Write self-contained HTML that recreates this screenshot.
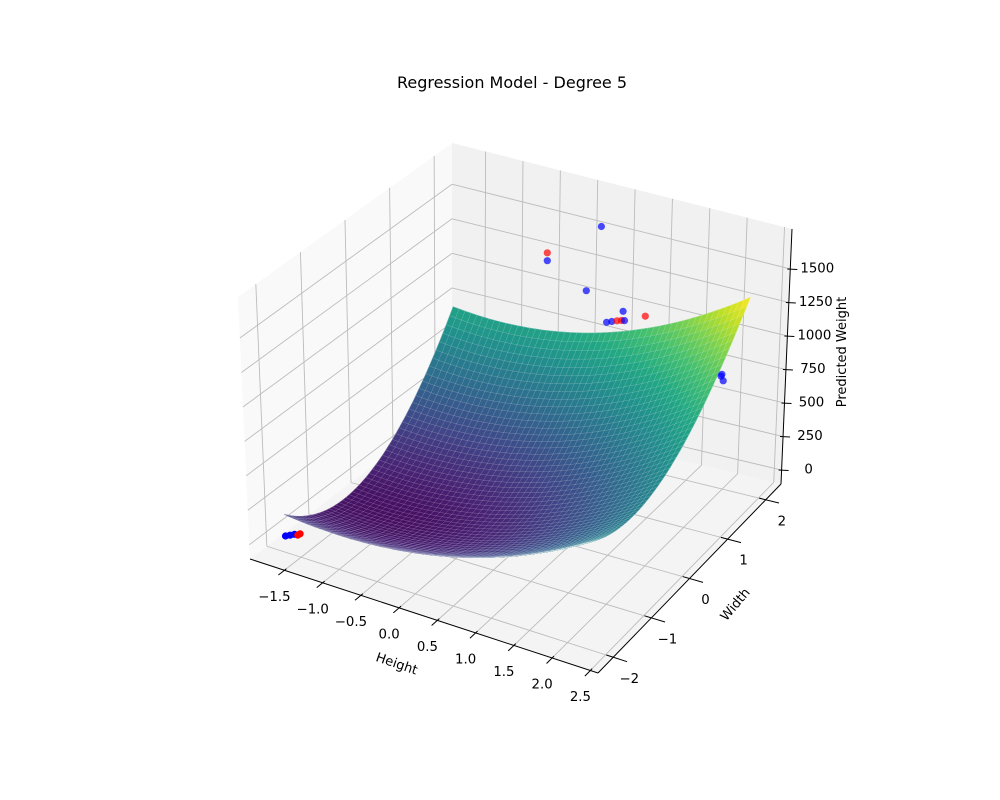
<!DOCTYPE html>
<html><head><meta charset="utf-8"><style>
html,body{margin:0;padding:0;background:#fff;}
svg{display:block;font-family:"DejaVu Sans","Liberation Sans",sans-serif;}
</style></head><body>
<svg id="chart" width="1000" height="800" viewBox="0 0 1000 800">
<text x="512" y="88" text-anchor="middle" font-size="16" fill="#000">Regression Model - Degree 5</text>
<g id="panes"></g>
<g id="grid"></g>
<g id="surface"></g>
<g id="points"></g>
<g id="axes"></g>
<text x="397" y="668" text-anchor="middle" font-size="13" transform="rotate(19 397 663)">Height</text>
<text x="736" y="612" text-anchor="middle" font-size="13" transform="rotate(-50 732 607)">Width</text>
<text x="846" y="352" text-anchor="middle" font-size="13" transform="rotate(-90 846 352)">Predicted Weight</text>
</svg>
<script>
// ---- data ----
const heightTicks = [-1.5, -1.0, -0.5, 0.0, 0.5, 1.0, 1.5, 2.0, 2.5];
const heightTickLabels = ["\u22121.5","\u22121.0","\u22120.5","0.0","0.5","1.0","1.5","2.0","2.5"];
const widthTicks = [-2, -1, 0, 1, 2];
const widthTickLabels = ["\u22122","\u22121","0","1","2"];
const zTicks = [0, 250, 500, 750, 1000, 1250, 1500];
const zTickLabels = ["0","250","500","750","1000","1250","1500"];
const heightRange = [-1.95, 2.6];
const widthRange = [-2.4, 2.4];
const zRange = [-104, 1798];
const surfHeightRange = [-1.7, 2.3];
const surfWidthRange = [-2.0, 2.0];
// surface model coefficients: a, b*s, c*s^2, d*t, e*t^2, f*s*t, g*s^2*t, k*s*t^2
const surfaceCoefs = [170, -273, 728, -1250, 1820, 241, 184, -270];
const pointHeight = [-1.8,-1.75,-1.7,-1.67,-1.65, -0.43,-0.43, 0.29, 0.10, 0.60, 0.90, 0.45, 0.52, 0.58, 0.62, 0.38, 1.95, 1.97, 1.94];
const pointWidth  = [-1.82,-1.8,-1.78,-1.76,-1.74, 2.0, 2.0, 2.0, 2.0, 2.0, 2.0, 2.0, 2.0, 2.0, 2.0, 2.0, 2.0, 2.0, 2.0];
const pointWeight = [-45,-35,-25,-30,-22, 1302, 1245, 1593, 1098, 1015, 1020, 920, 935, 945, 950, 905, 735, 690, 720];
const pointClass  = ["b","b","b","r","r", "r","b","b","b","b","r","b","r","r","b","b","b","b","b"];

// ---- projection (trilinear over box corners) ----
const F00=[250,559],F10=[598,673],F01=[452,406],F11=[781,484];
const T00=[238,297],T10=[585,390],T01=[452,143],T11=[792,229];
function bil(a,b,c,d,u,v){return [ (a[0]*(1-u)+b[0]*u)*(1-v)+(c[0]*(1-u)+d[0]*u)*v, (a[1]*(1-u)+b[1]*u)*(1-v)+(c[1]*(1-u)+d[1]*u)*v ];}
function P(u,v,n){const f=bil(F00,F10,F01,F11,u,v),t=bil(T00,T10,T01,T11,u,v);return [f[0]+(t[0]-f[0])*n,f[1]+(t[1]-f[1])*n];}
const xu=h=>(h-heightRange[0])/(heightRange[1]-heightRange[0]);
const yv=w=>(w-widthRange[0])/(widthRange[1]-widthRange[0]);
const zn=z=>(z-zRange[0])/(zRange[1]-zRange[0]);
const NS="http://www.w3.org/2000/svg";
function mk(tag,attrs,parent){const e=document.createElementNS(NS,tag);for(const k in attrs)e.setAttribute(k,attrs[k]);parent.appendChild(e);return e;}
const pts=a=>a.map(p=>p[0].toFixed(1)+","+p[1].toFixed(1)).join(" ");

// panes
const gP=document.getElementById('panes');
let e;
e=mk('polygon',{points:pts([P(0,0,0),P(1,0,0),P(1,1,0),P(0,1,0)]),fill:'#f4f4f4',stroke:'none'},gP);


e=mk('polygon',{points:pts([P(0,0,0),P(0,1,0),P(0,1,1),P(0,0,1)]),fill:'#f9f9f9',stroke:'none'},gP);


e=mk('polygon',{points:pts([P(0,1,0),P(1,1,0),P(1,1,1),P(0,1,1)]),fill:'#f1f1f1',stroke:'none'},gP);



// grid
const gG=document.getElementById('grid');
function gl(a,b,name){const l=mk('line',{x1:a[0],y1:a[1],x2:b[0],y2:b[1],stroke:'#bcbcbc','stroke-width':0.9},gG);

}
heightTicks.forEach(h=>{const u=xu(h);gl(P(u,0,0),P(u,1,0),'floor-grid-height');gl(P(u,1,0),P(u,1,1),'back-grid-height');});
widthTicks.forEach(w=>{const v=yv(w);gl(P(0,v,0),P(1,v,0),'floor-grid-width');gl(P(0,v,0),P(0,v,1),'left-grid-width');});
zTicks.forEach(z=>{const n=zn(z);gl(P(0,0,n),P(0,1,n),'left-grid-z');gl(P(0,1,n),P(1,1,n),'back-grid-z');});

// surface
const stops=[[68,1,84],[72,36,117],[65,68,135],[53,95,141],[42,120,142],[33,145,140],[34,168,132],[68,191,112],[122,209,81],[189,223,38],[253,231,37]];
function viridis(x){x=Math.max(0,Math.min(1,x))*10;const i=Math.min(9,Math.floor(x)),f=x-i;const a=stops[i],b=stops[i+1];return 'rgb('+a.map((c,k)=>Math.round(c+(b[k]-c)*f)).join(',')+')';}
function surfZ(s,t){const c=surfaceCoefs;return c[0]+c[1]*s+c[2]*s*s+c[3]*t+c[4]*t*t+c[5]*s*t+c[6]*s*s*t+c[7]*s*t*t;}
const N=50;const Z=[];let zmin=1e9,zmax=-1e9;
for(let i=0;i<=N;i++){Z.push([]);for(let j=0;j<=N;j++){const z=surfZ(i/N,j/N);Z[i].push(z);zmin=Math.min(zmin,z);zmax=Math.max(zmax,z);}}
const cmin=zmin-60;
function SP(i,j){const h=surfHeightRange[0]+(surfHeightRange[1]-surfHeightRange[0])*i/N;const w=surfWidthRange[0]+(surfWidthRange[1]-surfWidthRange[0])*j/N;return P(xu(h),yv(w),zn(Z[i][j]));}
const cells=[];
for(let i=0;i<N;i++)for(let j=0;j<N;j++){const h=surfHeightRange[0]+(surfHeightRange[1]-surfHeightRange[0])*(i+.5)/N;const w=surfWidthRange[0]+(surfWidthRange[1]-surfWidthRange[0])*(j+.5)/N;const d=P(xu(h),yv(w),0)[1];cells.push([d,i,j]);}
cells.sort((a,b)=>a[0]-b[0]);
const gS=document.getElementById('surface');
cells.forEach(([d,i,j])=>{const zm=(Z[i][j]+Z[i+1][j]+Z[i][j+1]+Z[i+1][j+1])/4;const col=viridis((zm-cmin)/(zmax-cmin));
const p=mk('polygon',{points:pts([SP(i,j),SP(i+1,j),SP(i+1,j+1),SP(i,j+1)]),fill:col,stroke:col,'stroke-width':0.6},gS);

});
for(let i=0;i<=N;i++){const a=[];for(let j=0;j<=N;j++)a.push(SP(i,j));const l=mk('polyline',{points:pts(a),fill:'none',stroke:'rgba(255,255,255,0.3)','stroke-width':0.5},gS);

}
for(let j=0;j<=N;j++){const a=[];for(let i=0;i<=N;i++)a.push(SP(i,j));const l=mk('polyline',{points:pts(a),fill:'none',stroke:'rgba(255,255,255,0.3)','stroke-width':0.5},gS);

}

// points
const gPt=document.getElementById('points');
pointHeight.forEach((h,k)=>{const p=P(xu(h),yv(pointWidth[k]),zn(pointWeight[k]));const c=mk('circle',{cx:p[0].toFixed(1),cy:p[1].toFixed(1),r:3.6,fill:pointClass[k]==='r'?'#ff0000':'#0000ff','fill-opacity':pointWidth[k]>1?0.7:1},gPt);

});

// axes
const gA=document.getElementById('axes');
function al(a,b,name,w){const l=mk('line',{x1:a[0],y1:a[1],x2:b[0],y2:b[1],stroke:'#000','stroke-width':w||1},gA);

}
function tx(x,y,s,name,anchor){const t=mk('text',{x:x.toFixed(1),y:y.toFixed(1),'font-size':13.3,'text-anchor':anchor||'middle','dominant-baseline':'central',fill:'#000'},gA);t.textContent=s;

}
al(P(0,0,0),P(1,0,0),'x-axis-line');
al(P(1,0,0),P(1,1,0),'y-axis-line');
al(P(1,1,0),P(1,1,1),'z-axis-line');
heightTicks.forEach((h,k)=>{const u=xu(h);al(P(u,-0.03,0),P(u,0.01,0),'x-tick');const p=P(u,0,0);tx(p[0]-10,p[1]+27,heightTickLabels[k],'x-tick-label');});
widthTicks.forEach((w,k)=>{const v=yv(w);al(P(0.98,v,0),P(1.04,v,0),'y-tick');const p=P(1,v,0);tx(p[0]+16,p[1]+22,widthTickLabels[k],'y-tick-label');});
zTicks.forEach((z,k)=>{const p=P(1,1,zn(z));al([p[0]-3,p[1]],[p[0]+7,p[1]+0.5],'z-tick');tx(p[0]+27,p[1],zTickLabels[k],'z-tick-label');});
</script>
</body></html>
